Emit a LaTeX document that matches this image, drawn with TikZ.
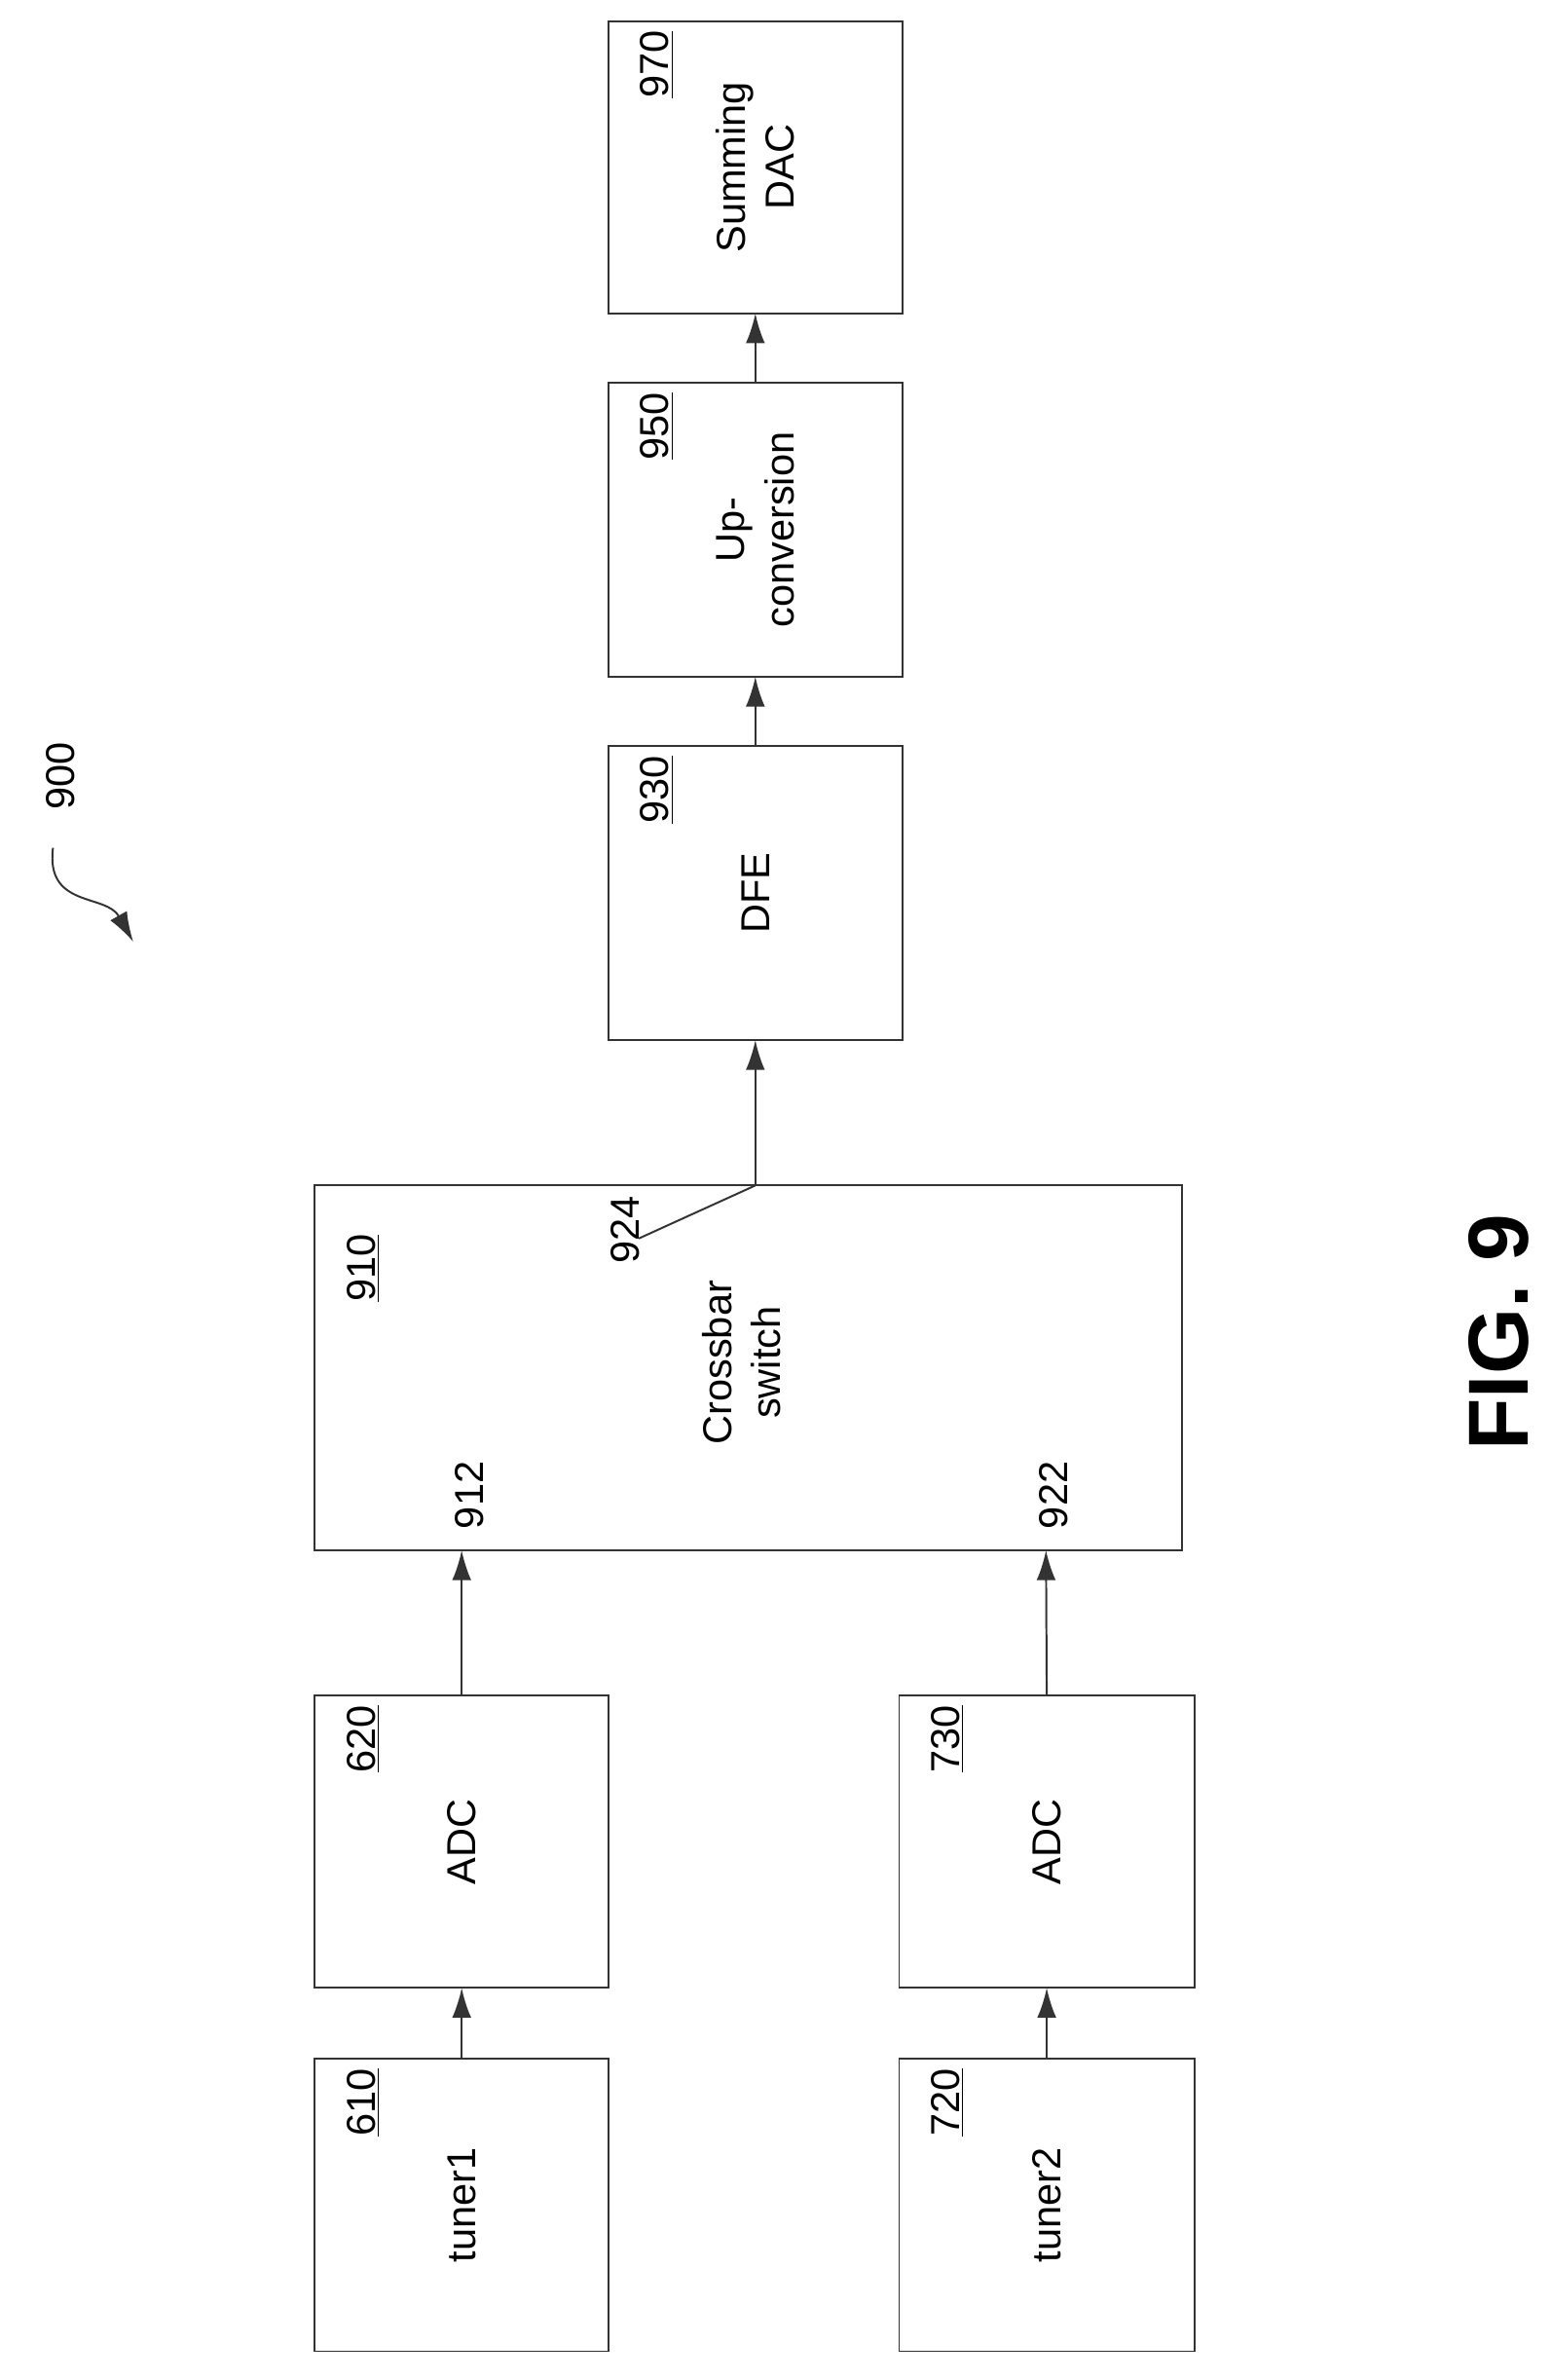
\documentclass[tikz,border=0pt]{standalone}
\usepackage{fontspec}
\setmainfont{Liberation Sans}
\usetikzlibrary{arrows.meta}
\begin{document}
\begin{tikzpicture}[x=0.025cm,y=-0.025cm,
  box/.style={draw=black!80,line width=0.9pt},
  arr/.style={draw=black!80,line width=0.9pt,-{Latex[length=14pt,width=9pt]}},
  txt/.style={rotate=90,font=\fontsize{19}{23}\selectfont,align=center,inner sep=0pt},
  num/.style={rotate=90,font=\fontsize{19}{23}\selectfont,anchor=east,inner sep=0pt}]
\useasboundingbox (0,0) rectangle (1024,1572);
\newcommand{\blk}[7]{%
  \draw[box] (#2,#3) rectangle (#4,#5);
  \node[txt] (#1) at ({(#2+#4)/2},{(#3+#5)/2}) {#7};
  \node[num] (#1n) at (#2+32,#3+6) {\underline{#6}};
  \coordinate (#1t) at ({(#2+#4)/2},#3);
  \coordinate (#1b) at ({(#2+#4)/2},#5);}
\blk{a}{402}{14}{596}{207}{970}{Summing\\DAC}
\blk{b}{402}{253}{596}{447}{950}{Up-\\conversion}
\blk{c}{402}{493}{596}{687}{930}{DFE}
\draw[box] (208,783) rectangle (781,1024);
\node[txt] (x) at (490,900) {Crossbar\\switch};
\node[num] (xn) at (240,815) {\underline{910}};
\blk{d}{208}{1120}{402}{1313}{620}{ADC}
\blk{e}{594}{1120}{789}{1313}{730}{ADC}
\blk{f}{208}{1360}{402}{1553}{610}{tuner1}
\blk{g}{594}{1360}{789}{1553}{720}{tuner2}
\coordinate (p912) at (305,1024);
\coordinate (p922) at (691,1024);
\coordinate (p924) at (499,783);
\draw[arr] (ft) -- (db);
\draw[arr] (gt) -- (eb);
\draw[arr] (dt) -- (p912);
\draw[arr] (et) -- (p922);
\draw[arr] (p924) -- (cb);
\draw[arr] (ct) -- (bb);
\draw[arr] (bt) -- (ab);
\node[num] (l912) at (310,965) {912};
\node[num] (l922) at (696,965) {922};
\node[num] (l924) at (413,790) {924};
\coordinate (q924) at (422,818);
\draw[line width=0.9pt,black!80] (q924) -- (p924);
\node[num] (l900) at (40,490) {900};
\coordinate (s900) at (35,560);
\coordinate (e900) at (88,622);
\draw[arr] (s900) .. controls (30,600) and (70,590) .. (e900);
\node[rotate=90,font=\bfseries\fontsize{40}{46}\selectfont,inner sep=0pt] (fig) at (990,880) {FIG. 9};
\end{tikzpicture}
\end{document}
